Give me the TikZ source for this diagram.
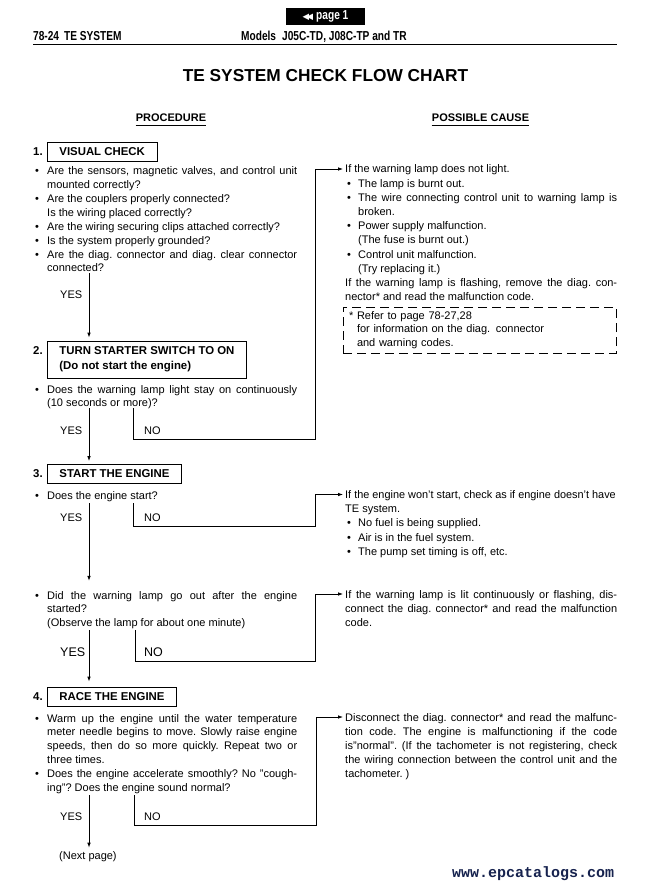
\documentclass[tikz,border=0pt]{standalone}
\usepackage{fontspec}
\usepackage{graphicx}
\setmainfont{Liberation Sans}
\newfontfamily\condfont[FakeStretch=0.78]{Liberation Sans}
\newfontfamily\symfont{DejaVu Sans}
\newfontfamily\wmfont{Liberation Mono}
\usetikzlibrary{arrows.meta,positioning,calc}
\definecolor{wmnavy}{RGB}{22,34,78}

\newcommand\bodyfont{\fontsize{11}{13.85}\selectfont\frenchspacing}
\newcommand\causefont{\fontsize{11}{14.2}\selectfont\frenchspacing}
% bullet items: \bfirst opens the node, \bitem starts a further item
\newcommand\bfirst{\noindent\hangindent=12pt\hangafter=1\makebox[12pt][l]{\textbullet}}
\newcommand\bitem{\par\bfirst}
\newcommand\ritem{\par\noindent\hangindent=13pt\hangafter=1\makebox[13pt][l]{\hspace{2pt}\textbullet}}

\begin{document}
\begin{tikzpicture}[x=1pt,y=-1pt,
  font=\bodyfont,
  arr/.style={-{Latex[length=5pt,width=3.6pt]},line width=0.8pt},
  txt/.style={anchor=base west,inner sep=0pt,text width=#1,align=justify},
  ctxt/.style={txt=#1,font=\causefont},
  stepbox/.style={draw,line width=0.8pt,anchor=west,inner xsep=12pt,inner ysep=0pt,
    minimum height=19pt,font=\fontsize{11.4}{15}\selectfont\bfseries},
  stepnum/.style={anchor=west,inner sep=0pt,font=\fontsize{11.4}{13}\selectfont\bfseries},
  ans/.style={anchor=west,inner sep=0pt},
  colhead/.style={anchor=base,inner sep=0pt,text depth=3pt,font=\fontsize{11}{13}\selectfont\bfseries},
  hdr/.style={anchor=base west,inner sep=0pt,font=\condfont\fontsize{13}{15}\selectfont\bfseries}]

\useasboundingbox (0,0) rectangle (664,890);
\fill[white] (0,0) rectangle (664,890);

% page header
\node[fill=black,text=white,inner sep=0pt,minimum width=79pt,minimum height=17pt,
  font=\condfont\fontsize{13}{15}\selectfont\bfseries] (pagebtn) at (325.5,16.5)
  {{\symfont\fontsize{8.5}{8.5}\selectfont ◀\kern-2.5pt◀}\hspace{3pt}page 1};
\node[hdr] (sect) at (33,40.5) {78-24\hspace{5pt}TE SYSTEM};
\node[hdr] (models) at (241,40.5) {Models\hspace{6pt}J05C-TD, J08C-TP and TR};
\draw[line width=1pt] (33,45) -- (617,45);

\node[font=\fontsize{17.3}{20}\selectfont\bfseries] (title) at (325.5,75.5)
  {TE SYSTEM CHECK FLOW CHART};
\node[colhead] (proc) at (171,122) {PROCEDURE};
\node[colhead] (cause) at (480.5,122) {POSSIBLE CAUSE};
\draw[line width=0.8pt] (proc.south west) -- (proc.south east);
\draw[line width=0.8pt] (cause.south west) -- (cause.south east);

% ---- 1. visual check ----
\node[stepnum] (n1) at (33,151.5) {1.};
\node[stepbox] (visual) at (47,151.5) {VISUAL CHECK};
\node[txt=262pt] (q1) at (35,175) {\bfirst Are the sensors, magnetic valves, and control unit\linebreak
  mounted correctly? \bitem Are the couplers properly connected?\newline Is the wiring placed correctly?
  \bitem Are the wiring securing clips attached correctly? \bitem Is the system properly grounded?
  \bitem Are the diag. connector and diag. clear connector\linebreak connected?\par};
\node[ans] (yes1) at (60,295) {YES};
\coordinate (y1) at (89,273);

% ---- 2. starter switch ----
\node[stepnum] (n2) at (33,351) {2.};
\node[stepbox,minimum height=37pt,align=left] (starter) at (47,359.5)
  {TURN STARTER SWITCH TO ON\\(Do not start the engine)};
\draw[arr,shorten >=3pt] (y1) -- (y1 |- starter.north);
\node[txt=262pt] (q2) at (35,393) {\bfirst Does the warning lamp light stay on continuously\linebreak
  (10 seconds or more)?\par};
\node[ans] (yes2) at (60,431) {YES};
\node[ans] (no2) at (144,431) {NO};
\coordinate (y2) at (89,408);
\coordinate (x2) at (133,408);
\coordinate (r2) at (315,439);

% cause for no light
\node[ctxt=272pt] (cause1) at (345,173) {If the warning lamp does not light.
  \ritem The lamp is burnt out.
  \ritem The wire connecting control unit to warning lamp is broken.
  \ritem Power supply malfunction.\newline (The fuse is burnt out.)
  \ritem Control unit malfunction.\newline (Try replacing it.)
  \par\noindent If the warning lamp is flashing, remove the diag. con-\linebreak
  nector* and read the malfunction code.\par};
\node[draw,line width=0.8pt,dash pattern=on 9pt off 5pt,inner xsep=6pt,inner ysep=0pt,
  text width=261pt,minimum height=46pt,align=left,font=\fontsize{11}{13.5}\selectfont]
  (note) at (479.5,330) {\noindent\hangindent=8pt\hangafter=1\makebox[8pt][l]{*}Refer to page 78-27,28\newline
  for information on the diag. connector\newline and warning codes.\par};
\draw[arr,shorten >=2pt] (x2) |- (r2) |- ([yshift=4pt]cause1.base west);

% ---- 3. start the engine ----
\node[stepnum] (n3) at (33,474) {3.};
\node[stepbox] (start) at (47,474) {START THE ENGINE};
\draw[arr,shorten >=3pt] (y2) -- (y2 |- start.north);
\node[txt=262pt] (q3a) at (35,499) {\bfirst Does the engine start?\par};
\node[ans] (yes3a) at (60,518) {YES};
\node[ans] (no3a) at (144,518) {NO};
\coordinate (y3a) at (89,503);
\coordinate (x3a) at (133,503);
\coordinate (r3a) at (315,526);

\node[ctxt=272pt] (cause2) at (345,498.5)
  {\scalebox{0.99}[1]{If the engine won’t start, check as if engine doesn’t have}\newline TE system.
  \ritem No fuel is being supplied.
  \ritem Air is in the fuel system.
  \ritem The pump set timing is off, etc.\par};
\draw[arr,shorten >=2pt] (x3a) |- (r3a) |- ([yshift=4pt]cause2.base west);

\node[txt=262pt] (q3b) at (35,599) {\bfirst Did the warning lamp go out after the engine\linebreak
  started?\newline (Observe the lamp for about one minute)\par};
\draw[arr,shorten >=10pt] (y3a) -- (y3a |- q3b.north);
\node[ans,font=\fontsize{12.5}{14}\selectfont] (yes3b) at (60,652) {YES};
\node[ans,font=\fontsize{12.5}{14}\selectfont] (no3b) at (144,652) {NO};
\coordinate (y3b) at (89,630);
\coordinate (x3b) at (135,630);
\coordinate (r3b) at (315,661);

\node[ctxt=272pt] (cause3) at (345,598) {If the warning lamp is lit continuously or flashing, dis-\linebreak
  connect the diag. connector* and read the malfunction\linebreak code.\par};
\draw[arr,shorten >=2pt] (x3b) |- (r3b) |- ([yshift=4pt]cause3.base west);

% ---- 4. race the engine ----
\node[stepnum] (n4) at (33,697) {4.};
\node[stepbox] (race) at (47,697) {RACE THE ENGINE};
\draw[arr,shorten >=5.5pt] (y3b) -- (y3b |- race.north);
\node[txt=262pt] (q4) at (35,722) {\bfirst Warm up the engine until the water temperature\linebreak
  meter needle begins to move. Slowly raise engine\linebreak
  speeds, then do so more quickly. Repeat two or\linebreak three times.
  \bitem Does the engine accelerate smoothly? No "cough-\linebreak
  ing"? Does the engine sound normal?\par};
\node[ans] (yes4) at (60,817) {YES};
\node[ans] (no4) at (144,817) {NO};
\coordinate (y4) at (89,795);
\coordinate (x4) at (134,795);
\coordinate (r4) at (316,825);
\node[ans] (next) at (59,857) {(Next page)};
\draw[arr,shorten >=4pt] (y4) -- (y4 |- next.north);

\node[ctxt=272pt] (cause4) at (345,721) {Disconnect the diag. connector* and read the malfunc-\linebreak
  tion code. The engine is malfunctioning if the code\linebreak
  is"normal". (If the tachometer is not registering, check\linebreak
  the wiring connection between the control unit and the\linebreak tachometer. )\par};
\draw[arr,shorten >=2pt] (x4) |- (r4) |- ([yshift=4pt]cause4.base west);

\node[anchor=base west,inner sep=0pt,text=wmnavy,font=\wmfont\fontsize{15}{15}\selectfont\bfseries]
  (wm) at (452,877) {www.epcatalogs.com};
\end{tikzpicture}
\end{document}
